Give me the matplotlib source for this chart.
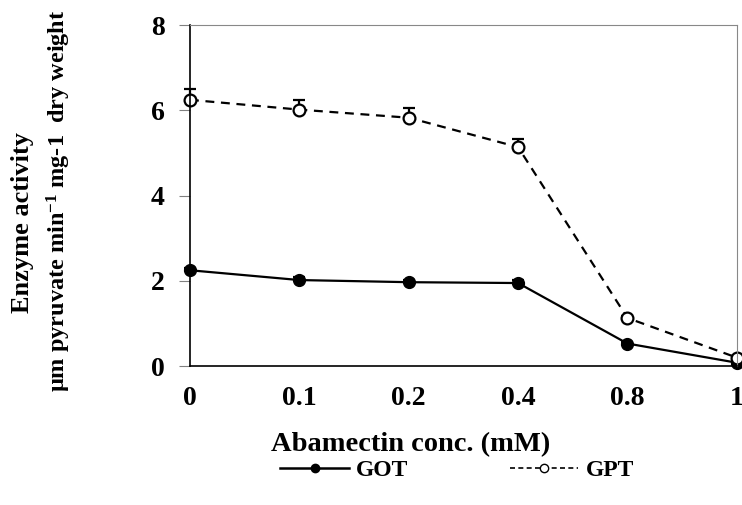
import numpy as np
import matplotlib.pyplot as plt
from matplotlib.lines import Line2D

plt.rcParams['font.family'] = ['Liberation Serif', 'DejaVu Serif']
plt.rcParams['font.weight'] = 'bold'
plt.rcParams['mathtext.fontset'] = 'custom'
plt.rcParams['mathtext.rm'] = 'Liberation Serif:bold'
plt.rcParams['mathtext.bf'] = 'Liberation Serif:bold'
plt.rcParams['mathtext.default'] = 'rm'

conc = ['0', '0.1', '0.2', '0.4', '0.8', '1']
got = [2.25, 2.02, 1.97, 1.95, 0.53, 0.08]
got_err = [0.06, 0.06, 0.05, 0.06, 0.04, 0.03]
gpt = [6.25, 6.02, 5.83, 5.14, 1.13, 0.2]
gpt_err = [0.25, 0.22, 0.22, 0.2, 0.05, 0.03]

fig = plt.figure(figsize=(7.42, 5.05), dpi=100)
ax = fig.add_axes([0.256, 0.275, 0.737, 0.675])

x = np.arange(len(conc))
ax.errorbar(x, got, yerr=[np.zeros(len(got)), got_err], color='black', lw=1.6,
            marker='o', ms=8.5, mfc='black', mec='black', capsize=4, capthick=1.6,
            elinewidth=1.6)
ax.errorbar(x, gpt, yerr=[np.zeros(len(gpt)), gpt_err], color='black', lw=1.6,
            ls='--', dashes=(4, 3), marker='o', ms=8.5, mfc='white', mec='black',
            mew=1.6, capsize=4, capthick=1.6, elinewidth=1.6)

ax.set_xlim(0, 5)
ax.set_ylim(0, 8)
ax.set_yticks([0, 2, 4, 6, 8])
ax.set_xticks(x)
ax.set_xticklabels(conc)
ax.tick_params(axis='y', labelsize=20, length=8, color='gray', pad=10)
ax.tick_params(axis='x', labelsize=20, length=0, pad=14)
for s in ['top', 'right']:
    ax.spines[s].set_color('#888888')
    ax.spines[s].set_linewidth(0.8)
for s in ['left', 'bottom']:
    ax.spines[s].set_linewidth(1.2)
for c in ax.get_children():
    if hasattr(c, 'set_clip_on'):
        c.set_clip_on(False)

fig.text(0.553, 0.119, 'Abamectin conc. (mM)', fontsize=20.5, fontweight='bold',
         ha='center', va='center')
fig.text(0.030, 0.56, 'Enzyme activity', rotation=90, fontsize=19,
         fontweight='bold', ha='center', va='center')
fig.text(0.079, 0.602, r'µm pyruvate min$^{-1}$ mg-1  dry weight', rotation=90,
         fontsize=17.5, fontweight='bold', ha='center', va='center')

handles = [Line2D([], [], color='black', lw=1.8, marker='o', ms=6, mfc='black'),
           Line2D([], [], color='black', lw=1.2, ls='--', dashes=(3, 2), marker='o',
                  ms=6, mfc='white', mec='black')]
fig.legend(handles, ['GOT', 'GPT'], loc='center', bbox_to_anchor=(0.616, 0.069), ncol=2,
           frameon=False, fontsize=17, columnspacing=4.3, handlelength=2.9,
           handletextpad=0.3)

plt.savefig('out.png')
